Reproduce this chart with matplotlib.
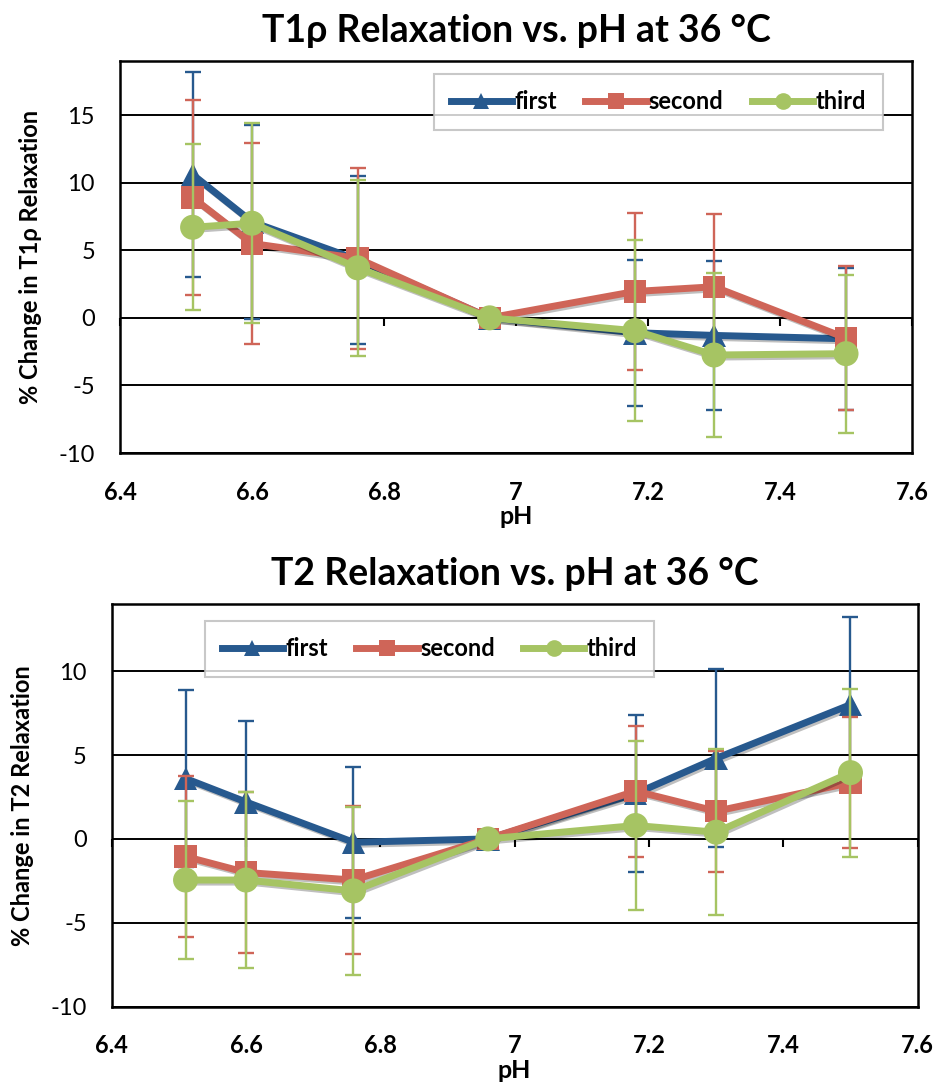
import numpy as np
import matplotlib
matplotlib.use('Agg')
import matplotlib.pyplot as plt
import matplotlib.patheffects as pe
from matplotlib.lines import Line2D

plt.rcParams['font.family'] = ['Lato', 'DejaVu Sans']
plt.rcParams['axes.unicode_minus'] = False

# pH values (same for both panels)
ph = [6.51, 6.60, 6.76, 6.96, 7.18, 7.30, 7.50]
series_names = ['first', 'second', 'third']

# T1rho relaxation % change
t1_first = [10.6, 7.1, 4.3, 0.0, -1.1, -1.3, -1.55]
t1_first_err = [7.6, 7.2, 6.2, 0.0, 5.4, 5.5, 5.25]
t1_second = [8.9, 5.5, 4.4, 0.0, 1.95, 2.3, -1.5]
t1_second_err = [7.2, 7.4, 6.7, 0.0, 5.8, 5.35, 5.3]
t1_third = [6.7, 7.0, 3.7, 0.0, -0.95, -2.75, -2.65]
t1_third_err = [6.15, 7.4, 6.5, 0.0, 6.7, 6.05, 5.85]

# T2 relaxation % change
t2_first = [3.6, 2.2, -0.2, 0.0, 2.7, 4.8, 8.0]
t2_first_err = [5.3, 4.8, 4.5, 0.0, 4.7, 5.3, 5.2]
t2_second = [-1.05, -2.0, -2.45, 0.0, 2.85, 1.65, 3.35]
t2_second_err = [4.8, 4.8, 4.4, 0.0, 3.9, 3.6, 3.9]
t2_third = [-2.45, -2.45, -3.1, 0.0, 0.8, 0.4, 3.95]
t2_third_err = [4.7, 5.25, 5.0, 0.0, 5.05, 4.95, 5.0]

colors = ['#27598E', '#CF6558', '#A6C463']
markers = ['^', 's', 'o']
msizes = [17, 16, 18]


def draw_panel(ax, vals, errs, title, ylabel, ylim, yticks, leg_anchor, leg_loc):
    for i in range(3):
        cont = ax.errorbar(ph, vals[i], yerr=errs[i], color=colors[i], ecolor=colors[i],
                           elinewidth=1.7, capsize=6, capthick=1.7, linewidth=5,
                           marker=markers[i], markersize=msizes[i], zorder=3 + i)
        cont.lines[0].set_markeredgewidth(0)
        cont.lines[0].set_path_effects([pe.SimpleLineShadow(offset=(1.5, -1.5), alpha=0.25),
                                        pe.Normal()])
    ax.set_xlim(6.4, 7.6)
    ax.set_ylim(*ylim)
    ax.set_xticks(np.arange(6.4, 7.61, 0.2))
    ax.set_xticklabels(['6.4', '6.6', '6.8', '7', '7.2', '7.4', '7.6'], fontweight='bold')
    ax.set_yticks(yticks)
    ax.tick_params(axis='x', length=0, pad=20, labelsize=17)
    ax.tick_params(axis='y', length=0, pad=18, labelsize=17)
    ax.grid(axis='y', color='black', linewidth=1.4)
    ax.set_axisbelow(True)
    for s in ax.spines.values():
        s.set_linewidth(1.8)
    ax.set_title(title, fontsize=27, fontweight='bold', pad=14)
    ax.set_xlabel('pH', fontsize=18, fontweight='bold', labelpad=1)
    ax.set_ylabel(ylabel, fontsize=17, fontweight='bold', labelpad=12)

    # Excel-style tick marks on the zero line
    frac = (0 - ylim[0]) / (ylim[1] - ylim[0])
    sec = ax.secondary_xaxis(frac)
    sec.set_xticks(np.arange(6.4, 7.61, 0.2))
    sec.set_xticklabels([])
    sec.tick_params(direction='out', length=6, width=1.5, color='black')
    sec.spines['bottom'].set_visible(False)

    handles = [Line2D([], [], color=colors[i], linewidth=5, marker=markers[i],
                      markersize=12, markeredgewidth=0) for i in range(3)]
    leg = ax.legend(handles, series_names, loc=leg_loc, bbox_to_anchor=leg_anchor,
                    ncol=3, fontsize=17, frameon=True, fancybox=False,
                    edgecolor='#BBBBBB', handlelength=2.6, handletextpad=0.1,
                    columnspacing=1.2, borderaxespad=0, borderpad=0.7)
    leg.get_frame().set_linewidth(1.5)
    leg.set_zorder(10)
    for t in leg.get_texts():
        t.set_fontweight('bold')


fig = plt.figure(figsize=(9.36, 10.84), dpi=100)
ax1 = fig.add_axes([0.1282, 0.5821, 0.8462, 0.3616])
ax2 = fig.add_axes([0.1193, 0.0713, 0.8611, 0.3715])

draw_panel(ax1, [t1_first, t1_second, t1_third], [t1_first_err, t1_second_err, t1_third_err],
           'T1ρ Relaxation vs. pH at 36 °C', '% Change in T1ρ Relaxation',
           (-10, 19), [-10, -5, 0, 5, 10, 15], (0.963, 0.967), 'upper right')
draw_panel(ax2, [t2_first, t2_second, t2_third], [t2_first_err, t2_second_err, t2_third_err],
           'T2 Relaxation vs. pH at 36 °C', '% Change in T2 Relaxation',
           (-10, 14), [-10, -5, 0, 5, 10], (0.116, 0.958), 'upper left')

fig.savefig('out.png', dpi=100)
